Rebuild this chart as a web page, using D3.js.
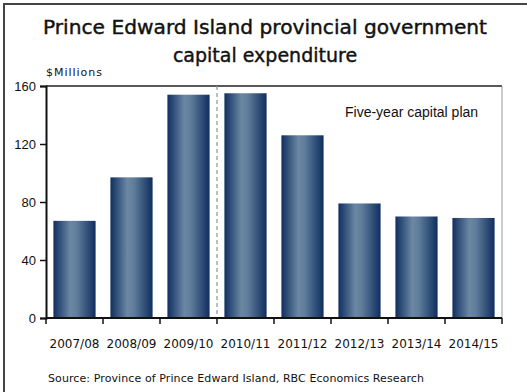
<!DOCTYPE html>
<html>
<head>
<meta charset="utf-8">
<script src="https://cdn.jsdelivr.net/npm/d3@7"></script>
<style>
  body { margin: 0; background: #fff; }
  text { font-family: "Liberation Sans", Arial, sans-serif; fill: #111; }
</style>
</head>
<body>
<svg id="chart" width="527" height="392"></svg>
<script>
// Data
var years = ["2007/08", "2008/09", "2009/10", "2010/11", "2011/12", "2012/13", "2013/14", "2014/15"];
var spending = [67, 97, 154, 155, 126, 79, 70, 69];
var yTicks = [0, 40, 80, 120, 160];

var svg = d3.select("#chart");

// outer frame (runs off the right and bottom edges)
svg.append("rect")
    .attr("x", 4).attr("y", 4)
    .attr("width", 540).attr("height", 400)
    .attr("fill", "none")
    .attr("stroke", "#444")
    .attr("stroke-width", 2);

// Title
var title = svg.append("text")
    .attr("text-anchor", "middle")
    .style("font-family", "'DejaVu Sans', sans-serif")
    .style("font-size", "19px")
    .style("stroke", "#111")
    .style("stroke-width", "0.4px");
title.append("tspan").attr("x", 265).attr("y", 34)
    .attr("textLength", 444).attr("lengthAdjust", "spacingAndGlyphs")
    .text("Prince Edward Island provincial government");
title.append("tspan").attr("x", 265).attr("y", 62)
    .text("capital expenditure");

var plotLeft = 46, plotRight = 502, plotTop = 86, plotBottom = 318;

var x = d3.scaleBand()
    .domain(years)
    .range([plotLeft, plotRight])
    .paddingInner(0.26)
    .paddingOuter(0.13);

var y = d3.scaleLinear()
    .domain([0, 160])
    .range([plotBottom, plotTop]);

// bar gradient
var grad = svg.append("defs").append("linearGradient")
    .attr("id", "barGrad")
    .attr("x1", "0%").attr("x2", "100%").attr("y1", "0%").attr("y2", "0%");
grad.append("stop").attr("offset", "0%").attr("stop-color", "#102f60");
grad.append("stop").attr("offset", "40%").attr("stop-color", "#6a87a3");
grad.append("stop").attr("offset", "55%").attr("stop-color", "#607e9b");
grad.append("stop").attr("offset", "100%").attr("stop-color", "#0f2e5f");

// plot frame: top dark, right grey
svg.append("line")
    .attr("x1", plotLeft).attr("x2", plotRight)
    .attr("y1", plotTop).attr("y2", plotTop)
    .attr("stroke", "#222").attr("stroke-width", 1.5);
svg.append("line")
    .attr("x1", plotRight).attr("x2", plotRight)
    .attr("y1", plotTop).attr("y2", plotBottom)
    .attr("stroke", "#999").attr("stroke-width", 1);

// bars
svg.selectAll(".bar")
    .data(spending)
  .enter().append("rect")
    .attr("class", "bar")
    .attr("x", function(d, i) { return x(years[i]); })
    .attr("y", function(d) { return y(d); })
    .attr("width", x.bandwidth())
    .attr("height", function(d) { return plotBottom - y(d); })
    .attr("fill", "url(#barGrad)");

// dashed divider between actuals and plan
var step = x.step();
var gap = (step - x.bandwidth()) / 2;
var divX = x("2010/11") - gap;
svg.append("line")
    .attr("x1", divX).attr("x2", divX)
    .attr("y1", plotTop).attr("y2", plotBottom)
    .attr("stroke", "#8a979e")
    .attr("stroke-width", 1.2)
    .attr("stroke-dasharray", "4,3");

svg.append("text")
    .attr("x", 345).attr("y", 117)
    .style("font-size", "14px")
    .text("Five-year capital plan");

// y axis
var yAxis = d3.axisLeft(y).tickValues(yTicks).tickSize(6).tickPadding(4);
var gy = svg.append("g")
    .attr("transform", "translate(" + plotLeft + ",0)")
    .call(yAxis);
gy.select(".domain").attr("stroke", "#111").attr("stroke-width", 2);
gy.selectAll(".tick line").attr("stroke", "#111").attr("stroke-width", 1.5);
gy.selectAll(".tick text")
    .style("font-size", "13px")
    .style("font-family", "'Liberation Sans', Arial, sans-serif")
    .attr("fill", "#111");

// x axis: ticks at band edges
svg.append("line")
    .attr("x1", plotLeft).attr("x2", plotRight)
    .attr("y1", plotBottom).attr("y2", plotBottom)
    .attr("stroke", "#111").attr("stroke-width", 2);
var edges = years.map(function(d) { return x(d) - gap; });
edges.push(plotRight);
svg.selectAll(".xtick")
    .data(edges)
  .enter().append("line")
    .attr("class", "xtick")
    .attr("x1", function(d) { return d; }).attr("x2", function(d) { return d; })
    .attr("y1", plotBottom).attr("y2", plotBottom + 6)
    .attr("stroke", "#111").attr("stroke-width", 1.5);

svg.selectAll(".xlabel")
    .data(years)
  .enter().append("text")
    .attr("class", "xlabel")
    .attr("x", function(d) { return x(d) + x.bandwidth() / 2; })
    .attr("y", 348)
    .attr("text-anchor", "middle")
    .style("font-family", "'DejaVu Sans', sans-serif")
    .style("font-size", "12px")
    .text(function(d) { return d; });

svg.append("text")
    .attr("x", 46).attr("y", 76)
    .style("font-family", "'DejaVu Sans', sans-serif")
    .style("font-size", "11px")
    .attr("textLength", 56)
    .text("$Millions");

svg.append("text")
    .attr("x", 48).attr("y", 382)
    .style("font-family", "'DejaVu Sans', sans-serif")
    .style("font-size", "11px")
    .attr("fill", "#222")
    .attr("textLength", 376)
    .text("Source: Province of Prince Edward Island, RBC Economics Research");
</script>
</body>
</html>
